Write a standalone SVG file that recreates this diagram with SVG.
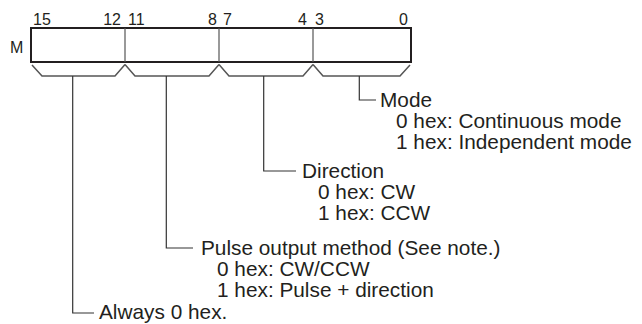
<svg xmlns="http://www.w3.org/2000/svg" width="642" height="324" viewBox="0 0 642 324">
<style>
  .t { font-family: "Liberation Sans", Arial, Helvetica, sans-serif; fill: #231f20; }
  .bit { font-size: 16px; }
  .lbl { font-size: 20.8px; }
  .frame { fill: #fff; stroke: #231f20; stroke-width: 2; }
  .div { stroke: #555; stroke-width: 1.2; fill: none; }
  .brace { stroke: #555; stroke-width: 1.5; fill: none; stroke-linejoin: miter; }
  .lead { stroke: #333; stroke-width: 1.2; fill: none; }
</style>
<g id="register">
  <text class="t bit" x="10" y="53">M</text>
  <rect class="frame" x="31" y="28" width="380" height="34"/>
  <line class="div" x1="125" y1="28" x2="125" y2="62"/>
  <line class="div" x1="219" y1="28" x2="219" y2="62"/>
  <line class="div" x1="313" y1="28" x2="313" y2="62"/>
  <text class="t bit" x="33" y="25">15</text>
  <text class="t bit" x="121" y="25" text-anchor="end">12</text>
  <text class="t bit" x="128" y="25">11</text>
  <text class="t bit" x="217" y="25" text-anchor="end">8</text>
  <text class="t bit" x="223" y="25">7</text>
  <text class="t bit" x="307" y="25" text-anchor="end">4</text>
  <text class="t bit" x="315" y="25">3</text>
  <text class="t bit" x="408" y="25" text-anchor="end">0</text>
</g>
<g id="braces">
  <path class="brace" d="M32,65 L42,76 L115,76 L125,64.5"/>
  <path class="brace" d="M125,64.5 L135,76 L209,76 L219,64.5"/>
  <path class="brace" d="M219,64.5 L229,76 L303,76 L313,64.5"/>
  <path class="brace" d="M313,64.5 L323,76 L400,76 L410,65"/>
</g>
<g id="connectors">
  <polyline class="lead" points="72.7,76 72.7,313 94,313"/>
  <polyline class="lead" points="166.3,76 166.3,248 193,248"/>
  <polyline class="lead" points="263.7,76 263.7,171 296,171"/>
  <polyline class="lead" points="359.3,76 359.3,100 376,100"/>
</g>
<g id="mode">
  <text class="t lbl" x="380" y="107">Mode</text>
  <text class="t lbl" x="396" y="128">0 hex: Continuous mode</text>
  <text class="t lbl" x="396" y="149">1 hex: Independent mode</text>
</g>
<g id="direction">
  <text class="t lbl" x="302" y="178">Direction</text>
  <text class="t lbl" x="318" y="199">0 hex: CW</text>
  <text class="t lbl" x="318" y="220">1 hex: CCW</text>
</g>
<g id="pulse">
  <text class="t lbl" x="201" y="255">Pulse output method (See note.)</text>
  <text class="t lbl" x="217" y="276">0 hex: CW/CCW</text>
  <text class="t lbl" x="217" y="297">1 hex: Pulse + direction</text>
</g>
<g id="always">
  <text class="t lbl" x="99" y="319">Always 0 hex.</text>
</g>
</svg>
